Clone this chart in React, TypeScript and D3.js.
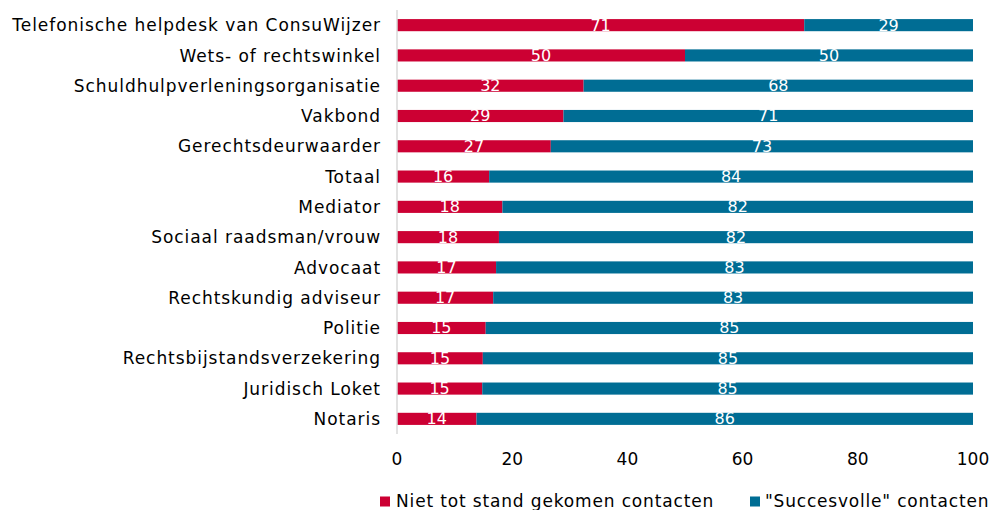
import React from "react";
import * as d3 from "d3";

const categories = [
  "Telefonische helpdesk van ConsuWijzer",
  "Wets- of rechtswinkel",
  "Schuldhulpverleningsorganisatie",
  "Vakbond",
  "Gerechtsdeurwaarder",
  "Totaal",
  "Mediator",
  "Sociaal raadsman/vrouw",
  "Advocaat",
  "Rechtskundig adviseur",
  "Politie",
  "Rechtsbijstandsverzekering",
  "Juridisch Loket",
  "Notaris",
];
const nietTotStand = [70.7, 50.0, 32.4, 28.9, 26.7, 16.0, 18.3, 17.7, 17.2, 16.7, 15.4, 14.9, 14.8, 13.8];
const succesvol = nietTotStand.map((v) => 100 - v);
const seriesNames = ["Niet tot stand gekomen contacten", "\"Succesvolle\" contacten"];
const colors = ["#cc0033", "#006d94"];
const xTicks = [0, 20, 40, 60, 80, 100];

const W = 992;
const H = 510;
const FONT = "Verdana, 'DejaVu Sans', sans-serif";

export default function App() {
  const x = d3.scaleLinear().domain([0, 100]).range([397, 973]);
  const y = d3.scaleBand().domain(categories).range([10, 434]).paddingInner(0.6).paddingOuter(0.3);
  const bh = y.bandwidth();
  return (
    <svg width={W} height={H} style={{ position: "absolute", left: 0, top: 0 }} fontFamily={FONT}>
      <rect width={W} height={H} fill="#fff" />
      {categories.map((c, i) => {
        const y0 = y(c)!;
        const a = nietTotStand[i];
        const b = succesvol[i];
        return (
          <g key={c}>
            <rect x={x(0)} y={y0} width={x(a) - x(0)} height={bh} fill={colors[0]} />
            <rect x={x(a)} y={y0} width={x(a + b) - x(a)} height={bh} fill={colors[1]} />
            <text x={(x(0) + x(a)) / 2} y={y0 + bh / 2} dy="0.34em" textAnchor="middle" fill="#fff" fontSize={16}>
              {Math.round(a)}
            </text>
            <text x={(x(a) + x(a + b)) / 2} y={y0 + bh / 2} dy="0.34em" textAnchor="middle" fill="#fff" fontSize={16}>
              {Math.round(b)}
            </text>
            <text x={381} y={y0 + bh / 2} dy="0.36em" textAnchor="end" fill="#000" fontSize={17} letterSpacing={0.95}>
              {c}
            </text>
          </g>
        );
      })}
      <line x1={x(0)} x2={x(0)} y1={10} y2={434} stroke="#d9d9d9" strokeWidth={1.5} />
      {xTicks.map((t) => (
        <text key={t} x={x(t)} y={459} dy="0.36em" textAnchor="middle" fontSize={17} fill="#000">
          {t}
        </text>
      ))}
      <g>
        <rect x={380} y={496.5} width={10} height={10} fill={colors[0]} />
        <text x={396} y={501} dy="0.36em" fontSize={17} letterSpacing={0.85} fill="#000">{seriesNames[0]}</text>
        <rect x={750} y={496.5} width={10} height={10} fill={colors[1]} />
        <text x={765} y={501} dy="0.36em" fontSize={17} letterSpacing={0.8} fill="#000">{seriesNames[1]}</text>
      </g>
    </svg>
  );
}
